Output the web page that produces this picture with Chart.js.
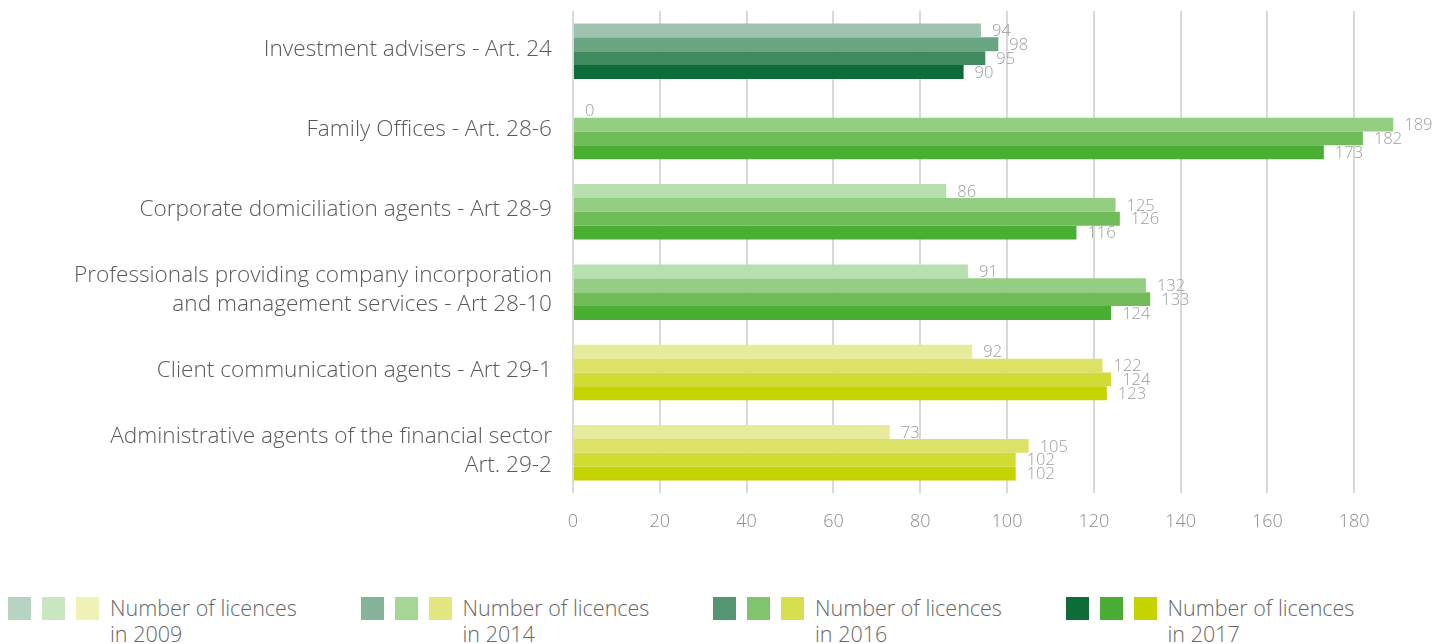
<!DOCTYPE html>
<html>
<head>
<meta charset="utf-8">
<script src="https://cdn.jsdelivr.net/npm/chart.js@4/dist/chart.umd.min.js"></script>
<style>
    body { margin: 0; background: #fff; font-family: "Open Sans", sans-serif; }
    #wrap { position: relative; width: 1447px; height: 644px; }
    #legend { position: absolute; left: 0; top: 596px; width: 1447px; height: 48px; }
    .lg-item { position: absolute; top: 0; }
    .lg-sq { position: absolute; top: 1px; width: 23px; height: 23px; }
    .lg-text { position: absolute; top: -1px; white-space: nowrap; font-size: 21.5px; font-weight: 300; color: #666; line-height: 26px; }
</style>
</head>
<body>
<div id="wrap">
    <canvas id="licenceChart" width="1447" height="560"></canvas>
    <div id="legend"></div>
</div>
<script>
const categories = [
    'Investment advisers - Art. 24',
    'Family Offices - Art. 28-6',
    'Corporate domiciliation agents - Art 28-9',
    ['Professionals providing company incorporation', 'and management services - Art 28-10'],
    'Client communication agents - Art 29-1',
    ['Administrative agents of the financial sector', 'Art. 29-2']
];
const years = ['2009', '2014', '2016', '2017'];
const licences2009 = [94, 0, 86, 91, 92, 73];
const licences2014 = [98, 189, 125, 132, 122, 105];
const licences2016 = [95, 182, 126, 133, 124, 102];
const licences2017 = [90, 173, 116, 124, 123, 102];

// colour families, one shade per year
const darkGreens = ['#9fc3ae', '#6aa583', '#408a5f', '#0e6b3a'];
const greens = ['#b8dfae', '#93ce82', '#6fbc59', '#4aad34'];
const limes = ['#e8eb9b', '#dbe266', '#d0dc33', '#c5d300'];
const categoryFamily = [darkGreens, greens, greens, greens, limes, limes];

// legend squares are a touch lighter than the bars
const legendColors = [
    ['#b6d3c4', '#c9e7c0', '#eef2b5'],
    ['#86b39b', '#a5d696', '#e2e77f'],
    ['#549673', '#80c56e', '#d6df4d'],
    ['#0e6b3a', '#4aad34', '#c5d300']
];

const series = [licences2009, licences2014, licences2016, licences2017];

const valueLabels = {
    id: 'valueLabels',
    afterDatasetsDraw(chart) {
        const ctx = chart.ctx;
        ctx.save();
        ctx.font = '300 16.5px "Open Sans"';
        ctx.fillStyle = '#9c9c9c';
        ctx.textAlign = 'left';
        ctx.textBaseline = 'middle';
        chart.data.datasets.forEach((ds, i) => {
            const meta = chart.getDatasetMeta(i);
            meta.data.forEach((bar, j) => {
                const offset = ds.data[j] === 0 ? 12 : 11;
                ctx.fillText(ds.data[j], bar.x + offset, bar.y + 1);
            });
        });
        ctx.restore();
    }
};

new Chart(document.getElementById('licenceChart'), {
    type: 'bar',
    data: {
        labels: categories,
        datasets: series.map((values, i) => ({
            label: 'Number of licences in ' + years[i],
            data: values,
            backgroundColor: categoryFamily.map(f => f[i]),
            borderWidth: 0,
            barPercentage: 1,
            categoryPercentage: 0.69
        }))
    },
    options: {
        indexAxis: 'y',
        responsive: false,
        animation: false,
        layout: { padding: { top: 11, right: 6, left: 0, bottom: 0 } },
        plugins: {
            legend: { display: false },
            tooltip: { enabled: false }
        },
        scales: {
            x: {
                min: 0,
                max: 200,
                border: { display: false },
                grid: { color: '#d9d9d9', lineWidth: 2, drawTicks: false },
                ticks: {
                    stepSize: 20,
                    padding: 18,
                    color: '#8c8c8c',
                    font: { family: 'Open Sans', size: 18, weight: 300 }
                },
                afterBuildTicks(scale) {
                    scale.ticks = scale.ticks.filter(t => t.value <= 180);
                },
                afterFit(scale) { scale.height = 67; }
            },
            y: {
                border: { display: false },
                grid: { display: false, drawTicks: false },
                ticks: {
                    padding: 21,
                    labelOffset: -2,
                    color: '#595959',
                    font: { family: 'Open Sans', size: 22.6, weight: 300, lineHeight: 1.28 }
                },
                afterFit(scale) {
                    scale.width = 573;
                    scale.paddingTop = 0;
                    scale.paddingBottom = 0;
                }
            }
        }
    },
    plugins: [valueLabels]
});

// legend: three squares per year plus a two-line caption
const legend = document.getElementById('legend');
years.forEach((year, i) => {
    const item = document.createElement('div');
    item.className = 'lg-item';
    item.style.left = (8 + i * 352.5) + 'px';
    legendColors[i].forEach((c, k) => {
        const sq = document.createElement('div');
        sq.className = 'lg-sq';
        sq.style.left = (k * 34) + 'px';
        sq.style.background = c;
        item.appendChild(sq);
    });
    const txt = document.createElement('div');
    txt.className = 'lg-text';
    txt.style.left = '102px';
    txt.innerHTML = 'Number of licences<br>in ' + year;
    item.appendChild(txt);
    legend.appendChild(item);
});
</script>
</body>
</html>
